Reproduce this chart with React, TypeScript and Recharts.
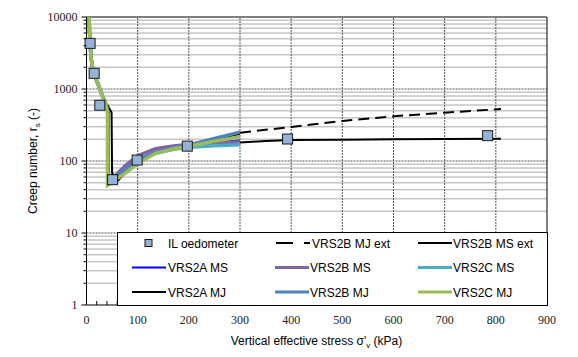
import React from "react";
import {
  ComposedChart,
  Line,
  Scatter,
  XAxis,
  YAxis,
  ReferenceLine,
} from "recharts";

// IL oedometer test points [stress kPa, creep number]
const ilOedometer: [number, number][] = [
  [7, 4300], [15, 1650], [26, 595], [51, 55], [99, 103], [197, 161], [393, 202], [784, 225],
];

// shared steep part at low stress
const steep: [number, number][] = [
  [5, 10000], [6, 6000], [7, 4300], [9, 2700], [12, 1950], [15, 1650],
  [20, 1300], [25, 1050], [30, 840], [36, 660],
];

const vrs2aMS: [number, number][] = [
  ...steep, [40, 540], [42, 460], [42, 50], [50, 54], [60, 62], [75, 78], [100, 103],
  [135, 132], [170, 148], [200, 160], [250, 178], [300, 190],
];
const vrs2bMS: [number, number][] = [
  ...steep, [40, 540], [42, 460], [42, 49], [50, 55], [60, 66], [75, 85], [100, 118],
  [135, 148], [170, 162], [200, 170], [250, 178], [300, 183],
];
const vrs2cMS: [number, number][] = [
  ...steep, [40, 540], [42, 460], [42, 47], [50, 52], [60, 60], [75, 75], [100, 100],
  [135, 128], [170, 145], [200, 155], [250, 163], [300, 168],
];
const vrs2aMJ: [number, number][] = [
  ...steep, [42, 580], [49, 470], [50, 68], [55, 62], [62, 54], [68, 60], [80, 75],
  [100, 98], [135, 130], [170, 150], [200, 165], [250, 200], [300, 237],
];
const vrs2bMJ: [number, number][] = [
  ...steep, [40, 540], [42, 460], [42, 48], [50, 53], [60, 62], [75, 75], [100, 102],
  [135, 133], [170, 152], [200, 167], [250, 205], [300, 252],
];
const vrs2cMJ: [number, number][] = [
  ...steep, [40, 530], [41, 440], [41, 46], [50, 50], [60, 57], [75, 67], [100, 92],
  [135, 128], [170, 148], [200, 160], [250, 188], [300, 218],
];

const vrs2bMJext: [number, number][] = [
  [300, 247], [400, 297], [500, 359], [600, 418], [700, 469], [810, 527],
];
const vrs2bMSext: [number, number][] = [
  [300, 180], [350, 190], [400, 196], [500, 198], [600, 200], [700, 202], [810, 204],
];

const xTicks = [0, 100, 200, 300, 400, 500, 600, 700, 800, 900];
const xMinorTicks = Array.from({ length: 46 }, (_, i) => i * 20);
const decades = [1, 10, 100, 1000, 10000];
const yTicks = [1, 10, 100, 1000].flatMap((d) => [1, 2, 3, 4, 5, 6, 7, 8, 9].map((m) => m * d)).concat([10000]);
const yMinor = yTicks.filter((v) => !decades.includes(v));

const toPts = (arr: [number, number][]) => arr.map(([x, y]) => ({ x, y }));

const serif = "Liberation Serif";
const sans = "Liberation Sans";

const YTick = ({ x, y, payload }: any) => {
  const major = decades.includes(payload.value);
  return (
    <g>
      <line x1={x - (major ? 5 : 3)} x2={x} y1={y} y2={y} stroke="#000" strokeWidth={1} />
      {major && (
        <text x={x - 9} y={y} dy={4} textAnchor="end" style={{ fontFamily: serif, fontSize: 12 }} fill="#222">
          {payload.value}
        </text>
      )}
    </g>
  );
};

const XTick = ({ x, y, payload }: any) => {
  const major = payload.value % 100 === 0;
  return (
    <g>
      {payload.value > 0 && payload.value < 900 && (
        <line x1={x} x2={x} y1={y} y2={y - 4} stroke="#000" strokeWidth={1} />
      )}
      {major && (
        <text x={x} y={y + 19} textAnchor="middle" style={{ fontFamily: serif, fontSize: 12 }} fill="#222">
          {payload.value}
        </text>
      )}
    </g>
  );
};

const Square = ({ cx, cy }: any) => (
  <rect x={cx - 5} y={cy - 5} width={10} height={10} fill="#95b3d7" stroke="#1a1a1a" strokeWidth={1} />
);

const series = [
  { name: "VRS2A MS", data: vrs2aMS, color: "#0000ff", w: 3 },
  { name: "VRS2B MS", data: vrs2bMS, color: "#8064a2", w: 3.5 },
  { name: "VRS2C MS", data: vrs2cMS, color: "#4bacc6", w: 3.5 },
  { name: "VRS2A MJ", data: vrs2aMJ, color: "#000000", w: 2 },
  { name: "VRS2B MJ", data: vrs2bMJ, color: "#4f81bd", w: 3.5 },
  { name: "VRS2C MJ", data: vrs2cMJ, color: "#9bbb59", w: 3.5 },
];

function LegendBox() {
  const rows = [11, 35.5, 60];
  const cols = [15, 158, 301];
  const txt = (x: number, y: number, s: string) => (
    <text x={x} y={y} dy={4.5} style={{ fontFamily: sans, fontSize: 12 }} fill="#000">{s}</text>
  );
  const line = (c: number, r: number, color: string, w: number, dash?: string) => (
    <line x1={c} x2={c + 34} y1={r} y2={r} stroke={color} strokeWidth={w} strokeDasharray={dash} />
  );
  return (
    <svg width={431} height={74} style={{ position: "absolute", left: 116.5, top: 231.5 }}>
      <rect x={0.5} y={0.5} width={430} height={73} fill="#fff" stroke="#000" strokeWidth={1} />
      <rect x={28} y={rows[0] - 3.5} width={7} height={7} fill="#95b3d7" stroke="#1a1a1a" strokeWidth={1} />
      {txt(51, rows[0], "IL oedometer")}
      {line(cols[1] + 1, rows[0], "#000", 2, "17 11")}
      {txt(cols[1] + 37, rows[0], "VRS2B MJ ext")}
      {line(cols[2], rows[0], "#000", 2)}
      {txt(cols[2] + 35, rows[0], "VRS2B MS ext")}
      {line(cols[0], rows[1], "#0000ff", 2)}
      {txt(cols[0] + 36, rows[1], "VRS2A MS")}
      {line(cols[1], rows[1], "#8064a2", 3)}
      {txt(cols[1] + 35, rows[1], "VRS2B MS")}
      {line(cols[2], rows[1], "#4bacc6", 3)}
      {txt(cols[2] + 35, rows[1], "VRS2C MS")}
      {line(cols[0], rows[2], "#000", 2)}
      {txt(cols[0] + 36, rows[2], "VRS2A MJ")}
      {line(cols[1], rows[2], "#4f81bd", 3)}
      {txt(cols[1] + 35, rows[2], "VRS2B MJ")}
      {line(cols[2], rows[2], "#9bbb59", 3)}
      {txt(cols[2] + 35, rows[2], "VRS2C MJ")}
    </svg>
  );
}

export default function App() {
  return (
    <div style={{ position: "absolute", left: 0, top: 0, width: 578, height: 357, background: "#fff" }}>
      <ComposedChart width={578} height={357} margin={{ top: 17, right: 31, left: 0, bottom: 0 }}>
        <XAxis
          dataKey="x"
          type="number"
          domain={[0, 900]}
          ticks={xMinorTicks.filter((t) => t <= 900)}
          interval={0}
          tick={<XTick />}
          tickSize={0}
          tickMargin={0}
          height={52}
          axisLine={{ stroke: "#000", strokeWidth: 1 }}
          label={{
            content: () => (
              <text x={316.5} y={345} textAnchor="middle" style={{ fontFamily: sans, fontSize: 12 }} fill="#000">
                Vertical effective stress σ'
                <tspan fontSize={8} dy={3}>v</tspan>
                <tspan dy={-3}> (kPa)</tspan>
              </text>
            ),
          }}
        />
        <YAxis
          dataKey="y"
          type="number"
          scale="log"
          domain={[1, 10000]}
          allowDataOverflow
          ticks={yTicks}
          interval={0}
          tick={<YTick />}
          tickSize={0}
          tickMargin={0}
          width={86.5}
          axisLine={{ stroke: "#000", strokeWidth: 1 }}
          label={{
            content: () => (
              <text
                x={37}
                y={161}
                textAnchor="middle"
                transform="rotate(-90 37 161)"
                style={{ fontFamily: sans, fontSize: 12 }}
                fill="#000"
              >
                Creep number, r
                <tspan fontSize={8} dy={3}>s</tspan>
                <tspan dy={-3}> (-)</tspan>
              </text>
            ),
          }}
        />
        {yMinor.map((v) => (
          <ReferenceLine key={"ym" + v} y={v} stroke="#c6c6c6" strokeWidth={1.5} />
        ))}
        {[10, 100, 1000].map((v) => (
          <ReferenceLine key={"yM" + v} y={v} stroke="#555" strokeWidth={1} strokeDasharray="2 1" />
        ))}
        {xTicks.slice(1, -1).map((v) => (
          <ReferenceLine key={"xg" + v} x={v} stroke="#555" strokeWidth={1} strokeDasharray="2 1" />
        ))}
        <ReferenceLine y={10000} stroke="#000" strokeWidth={1} />
        <ReferenceLine x={900} stroke="#000" strokeWidth={1} />
        {series.map((s) => (
          <Line
            key={s.name}
            name={s.name}
            data={toPts(s.data)}
            dataKey="y"
            type="linear"
            stroke={s.color}
            strokeWidth={s.w}
            dot={false}
            isAnimationActive={false}
          />
        ))}
        <Line
          name="VRS2B MJ ext"
          data={toPts(vrs2bMJext)}
          dataKey="y"
          type="linear"
          stroke="#000"
          strokeWidth={2}
          strokeDasharray="11 6"
          dot={false}
          isAnimationActive={false}
        />
        <Line
          name="VRS2B MS ext"
          data={toPts(vrs2bMSext)}
          dataKey="y"
          type="linear"
          stroke="#000"
          strokeWidth={2}
          dot={false}
          isAnimationActive={false}
        />
        <Scatter
          name="IL oedometer"
          data={toPts(ilOedometer)}
          dataKey="y"
          shape={<Square />}
          isAnimationActive={false}
        />
      </ComposedChart>
      <LegendBox />
    </div>
  );
}
